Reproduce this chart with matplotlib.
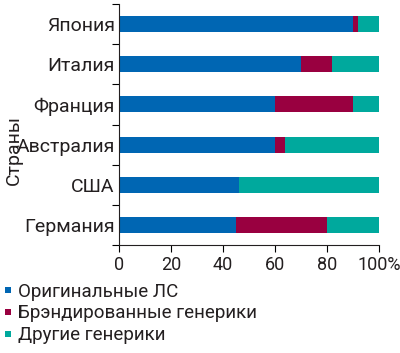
import matplotlib
matplotlib.use("Agg")
import matplotlib.pyplot as plt
import numpy as np
from matplotlib.lines import Line2D

plt.rcParams['font.family'] = ['Roboto', 'DejaVu Sans']

countries = ["Япония", "Италия", "Франция", "Австралия", "США", "Германия"]
original = [90, 70, 60, 60, 46, 45]
branded = [2, 12, 30, 4, 0, 35]
other = [8, 18, 10, 36, 54, 20]
series_names = ["Оригинальные ЛС", "Брэндированные генерики", "Другие генерики"]
colors = ["#0066b3", "#990040", "#00a99d"]
xticks = [0, 20, 40, 60, 80, 100]
xticklabels = ["0", "20", "40", "60", "80", "100%"]

txt = "#231f20"
fig = plt.figure(figsize=(4.0, 3.53), dpi=100)
ax = fig.add_axes([119/400, 1-245/353, 260/400, 241/353])

y = np.arange(len(countries))
left = np.zeros(len(countries))
for vals, c in zip([original, branded, other], colors):
    ax.barh(y, vals, left=left, height=0.4, color=c, linewidth=0)
    left += np.array(vals)

ax.set_ylim(len(countries) - 0.5, -0.5)
ax.set_xlim(0, 100)
ax.set_yticks(y)
ax.set_yticklabels(countries, fontsize=14, color=txt)
ax.set_yticks(np.arange(-0.5, len(countries)), minor=True)
ax.tick_params(axis='y', which='major', length=0, pad=3)
ax.tick_params(axis='y', which='minor', length=5, width=0.8, direction='out')
ax.set_xticks(xticks)
ax.set_xticklabels(xticklabels, fontsize=13, color=txt)
ax.tick_params(axis='x', length=5, width=0.8, direction='out', pad=3)
for s in ['top', 'right']:
    ax.spines[s].set_visible(False)
for s in ['left', 'bottom']:
    ax.spines[s].set_linewidth(0.8)
    ax.spines[s].set_color(txt)

fig.text(14/400, 1-150/353, "Страны", rotation=90, ha='center', va='center',
         fontsize=14, color=txt)

handles = [Line2D([0], [0], marker='s', linestyle='', markersize=5,
                  markerfacecolor=c, markeredgewidth=0) for c in colors]
fig.legend(handles, series_names, loc='upper left', bbox_to_anchor=(0.0, 1-279/353),
           frameon=False, fontsize=13.5, handlelength=0.5, handletextpad=0.25,
           labelspacing=0.2, borderaxespad=0, borderpad=0.2, labelcolor=txt)

fig.savefig("out.png", dpi=100)
